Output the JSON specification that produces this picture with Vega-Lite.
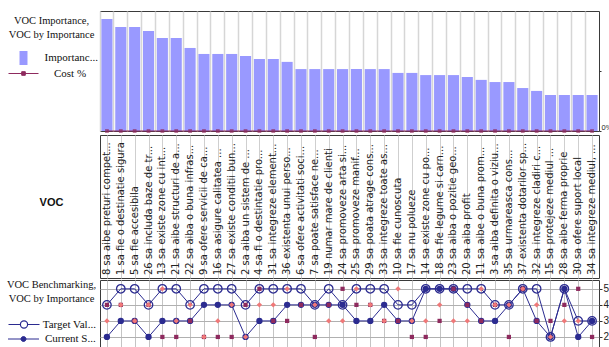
{
  "$schema": "https://vega.github.io/schema/vega-lite/v6.json",
  "padding": {"left": 6, "top": 10, "right": 0, "bottom": 0},
  "background": "white",
  "config": {
    "view": {"stroke": "#3a3a3a", "strokeWidth": 1},
    "concat": {"spacing": 0},
    "font": "Liberation Sans"
  },
  "datasets": {
    "voc": [
      {"voc": "8 sa aibe preturi compet...", "imp": 4.67, "cost": 0, "target": 4, "current": 2, "p": 4, "s": 3},
      {"voc": "1 sa fie o destinatie sigura", "imp": 4.33, "cost": 0, "target": 5, "current": 3, "p": 4, "s": 4},
      {"voc": "5 sa fie accesibila", "imp": 4.33, "cost": 0, "target": 5, "current": 3, "p": 3, "s": 3},
      {"voc": "26 sa includa baze de tr...", "imp": 4.17, "cost": 0, "target": 4, "current": 2, "p": 4, "s": 4},
      {"voc": "13 sa existe zone cu int...", "imp": 3.88, "cost": 0, "target": 5, "current": 3, "p": 2, "s": 5},
      {"voc": "21 sa aibe structuri de a...", "imp": 3.88, "cost": 0, "target": 5, "current": 3, "p": 2, "s": 3},
      {"voc": "22 sa aiba o buna infras...", "imp": 3.46, "cost": 0, "target": 4, "current": 3, "p": 3, "s": 4},
      {"voc": "9 sa ofere servicii de ca...", "imp": 3.21, "cost": 0, "target": 5, "current": 4, "p": 2, "s": 2},
      {"voc": "16 sa asigure calitatea ...", "imp": 3.21, "cost": 0, "target": 5, "current": 4, "p": 2, "s": 3},
      {"voc": "27 sa existe conditii bun...", "imp": 3.21, "cost": 0, "target": 5, "current": 4, "p": 2, "s": 4},
      {"voc": "2 sa aiba un sistem de ...", "imp": 3.13, "cost": 0, "target": 4, "current": 2, "p": 4, "s": 2},
      {"voc": "4 sa fi o destintatie pro...", "imp": 3.0, "cost": 0, "target": 5, "current": 3, "p": 5, "s": 4},
      {"voc": "31 sa integreze element...", "imp": 3.0, "cost": 0, "target": 5, "current": 3, "p": 3, "s": 4},
      {"voc": "36 existenta unui perso...", "imp": 2.88, "cost": 0, "target": 5, "current": 4, "p": 3, "s": 5},
      {"voc": "6 sa ofere activitati soci...", "imp": 2.58, "cost": 0, "target": 5, "current": 4, "p": 4, "s": 1},
      {"voc": "7 sa poate satisface ne...", "imp": 2.58, "cost": 0, "target": 4, "current": 4, "p": 2, "s": 4},
      {"voc": "19 numar mare de clienti", "imp": 2.58, "cost": 0, "target": 5, "current": 4, "p": 4, "s": 3},
      {"voc": "24 sa promoveze arta si...", "imp": 2.58, "cost": 0, "target": 4, "current": 4, "p": 5, "s": 3},
      {"voc": "25 sa promoveze manif...", "imp": 2.58, "cost": 0, "target": 5, "current": 3, "p": 4, "s": 5},
      {"voc": "29 sa poata atrage cons...", "imp": 2.58, "cost": 0, "target": 5, "current": 3, "p": 4, "s": 4},
      {"voc": "33 sa integreze toate as...", "imp": 2.58, "cost": 0, "target": 5, "current": 4, "p": 3, "s": 3},
      {"voc": "10 sa fie cunoscuta", "imp": 2.42, "cost": 0, "target": 4, "current": 3, "p": 3, "s": 5},
      {"voc": "17 sa nu polueze", "imp": 2.42, "cost": 0, "target": 4, "current": 3, "p": 2, "s": 3},
      {"voc": "14 sa existe zone cu po...", "imp": 2.33, "cost": 0, "target": 5, "current": 5, "p": 2, "s": 3},
      {"voc": "18 sa fie legume si carn...", "imp": 2.33, "cost": 0, "target": 5, "current": 5, "p": 3, "s": 4},
      {"voc": "23 sa aiba o pozitie geo...", "imp": 2.33, "cost": 0, "target": 5, "current": 5, "p": 5, "s": 3},
      {"voc": "20 sa aiba profit", "imp": 2.25, "cost": 0, "target": 5, "current": 4, "p": 4, "s": 3},
      {"voc": "11 sa aibe o buna prom...", "imp": 2.13, "cost": 0, "target": 5, "current": 3, "p": 3, "s": 5},
      {"voc": "3 sa aiba definita o viziu...", "imp": 2.04, "cost": 0, "target": 4, "current": 3, "p": 4, "s": 4},
      {"voc": "35 sa urmareasca cons...", "imp": 2.04, "cost": 0, "target": 4, "current": 4, "p": 2, "s": 4},
      {"voc": "37 existenta dotarilor sp...", "imp": 1.79, "cost": 0, "target": 5, "current": 5, "p": 5, "s": 5},
      {"voc": "32 sa integreze cladiri c...", "imp": 1.67, "cost": 0, "target": 5, "current": 3, "p": 3, "s": 4},
      {"voc": "15 sa protejeze mediul ...", "imp": 1.5, "cost": 0, "target": 2, "current": 2, "p": 3, "s": 2},
      {"voc": "28 sa aibe ferma proprie", "imp": 1.5, "cost": 0, "target": 5, "current": 5, "p": 4, "s": 3},
      {"voc": "30 sa ofere suport local", "imp": 1.5, "cost": 0, "target": 3, "current": 2, "p": 5, "s": 3},
      {"voc": "34 sa integreze mediul, ...", "imp": 1.5, "cost": 0, "target": 3, "current": 3, "p": 2, "s": null}
    ]
  },
  "spacing": 0,
  "resolve": {"scale": {"fill": "independent", "stroke": "independent"}, "legend": {"fill": "independent", "stroke": "independent"}},
  "hconcat": [
    {
      "spacing": 0,
      "resolve": {"scale": {"fill": "independent", "stroke": "independent"}, "legend": {"fill": "independent", "stroke": "independent"}},
      "vconcat": [
        {
          "width": 91, "height": 33,
          "data": {"values": [{"t": "VOC Importance,\nVOC by Importance"}]},
          "mark": {"type": "text", "lineBreak": "\n", "font": "Liberation Sans Narrow", "fontSize": 10.5, "color": "#111", "lineHeight": 14, "dy": -7},
          "encoding": {"text": {"field": "t"}}
        },
        {
          "width": 91, "height": 87,
          "data": {"values": []},
          "layer": [
            {
              "mark": {"type": "point", "filled": true},
              "encoding": {
                "fill": {"datum": "Importanc...", "scale": {"range": ["#9999ff"]},
                         "legend": {"orient": "none", "legendX": 10.5, "legendY": 7, "title": null, "padding": 0,
                                    "symbolType": "M-0.57,-1H0.57V1H-0.57Z", "symbolSize": 196, "symbolStrokeWidth": 0, "symbolOpacity": 1,
                                    "labelOffset": 14, "labelFont": "Liberation Sans Narrow", "labelFontSize": 11, "labelColor": "#111"}}
              }
            },
            {
              "mark": {"type": "point", "filled": true, "color": "#8e2a5e"},
              "encoding": {
                "stroke": {"datum": "Cost %", "scale": {"range": ["#8e2a5e"]},
                           "legend": {"orient": "none", "legendX": 2, "legendY": 14, "title": null, "padding": 0,
                                      "symbolType": "M-1,0H1M-0.12,-0.12H0.12V0.12H-0.12Z", "symbolSize": 900, "symbolStrokeWidth": 1,
                                      "symbolFillColor": "#8e2a5e", "symbolOpacity": 1,
                                      "labelOffset": 15, "labelFont": "Liberation Sans Narrow", "labelFontSize": 11, "labelColor": "#111"}}
              }
            }
          ]
        },
        {
          "width": 91, "height": 143,
          "data": {"values": [{"t": "VOC"}]},
          "mark": {"type": "text", "font": "Liberation Sans", "fontWeight": "bold", "fontSize": 11, "color": "#111"},
          "encoding": {"text": {"field": "t"}}
        },
        {
          "width": 91, "height": 36,
          "data": {"values": [{"t": "VOC Benchmarking,\nVOC by Importance"}]},
          "mark": {"type": "text", "lineBreak": "\n", "font": "Liberation Sans Narrow", "fontSize": 10.5, "color": "#111", "lineHeight": 14, "dy": -7},
          "encoding": {"text": {"field": "t"}}
        },
        {
          "width": 91, "height": 37,
          "data": {"values": []},
          "layer": [
            {
              "mark": {"type": "point", "filled": false},
              "encoding": {
                "stroke": {"datum": "Target Val...", "scale": {"range": ["#2b2b90"]},
                           "legend": {"orient": "none", "legendX": 12, "legendY": 8.5, "title": null, "padding": 0,
                                      "symbolType": "M-3.1,0H-0.72M0.72,0H3.1M0.72,0A0.72,0.72 0 1,1 -0.72,0A0.72,0.72 0 1,1 0.72,0Z",
                                      "symbolSize": 100, "symbolStrokeWidth": 1.2, "symbolFillColor": "white", "symbolOpacity": 1,
                                      "labelOffset": 12.7, "labelFont": "Liberation Sans Narrow", "labelFontSize": 11, "labelColor": "#111"}}
              }
            },
            {
              "mark": {"type": "point", "filled": true},
              "encoding": {
                "fill": {"datum": "Current S...", "scale": {"range": ["#2b2b90"]},
                         "legend": {"orient": "none", "legendX": 12, "legendY": 23.5, "title": null, "padding": 0,
                                    "symbolType": "M-3.1,0H3.1M0.5,0A0.5,0.5 0 1,1 -0.5,0A0.5,0.5 0 1,1 0.5,0Z",
                                    "symbolSize": 100, "symbolStrokeWidth": 1, "symbolStrokeColor": "#2b2b90", "symbolOpacity": 1,
                                    "labelOffset": 16, "labelFont": "Liberation Sans Narrow", "labelFontSize": 11, "labelColor": "#111"}}
              }
            }
          ]
        }
      ]
    },
    {
      "spacing": 0,
      "vconcat": [
        {
          "width": 499, "height": 120,
          "data": {"name": "voc"},
          "encoding": {
            "x": {"field": "voc", "type": "nominal", "sort": null, "scale": {"paddingInner": 0, "paddingOuter": 0},
                  "axis": {"title": null, "labels": false, "ticks": false, "domain": false, "grid": true, "bandPosition": 0, "gridColor": "#d6d6d6", "gridWidth": 1.5}}
          },
          "layer": [
            {
              "mark": {"type": "bar", "width": {"band": 0.8}, "color": "#9999ff"},
              "encoding": {
                "y": {"field": "imp", "type": "quantitative", "scale": {"domain": [0, 5]}, "axis": null}
              }
            },
            {
              "encoding": {
                "y": {"field": "cost", "type": "quantitative", "scale": {"domain": [0, 1]},
                      "axis": {"orient": "right", "values": [0, 0.5], "labelExpr": "datum.value == 0 ? '0%' : ''", "labelFlush": true, "title": null, "grid": false, "domain": false, "tickSize": 2, "tickColor": "#333", "labelPadding": 0, "labelFontSize": 7.5, "labelColor": "#222"}}
              },
              "layer": [
                {"mark": {"type": "line", "strokeWidth": 1, "color": "#8e2a5e"}},
                {"mark": {"type": "point", "shape": "square", "filled": true, "size": 14, "color": "#8e2a5e"}}
              ]
            }
          ],
          "resolve": {"scale": {"y": "independent"}}
        },
        {
          "width": 499, "height": 143,
          "data": {"name": "voc"},
          "mark": {"type": "text", "angle": 270, "align": "left", "baseline": "middle", "dx": 3, "font": "DejaVu Sans", "fontSize": 10, "color": "#222"},
          "encoding": {
            "x": {"field": "voc", "type": "nominal", "sort": null, "scale": {"paddingInner": 0, "paddingOuter": 0},
                  "axis": {"title": null, "labels": false, "ticks": false, "domain": false, "grid": true, "bandPosition": 0, "gridColor": "#cfcfcf", "gridWidth": 1}},
            "y": {"datum": 0, "type": "quantitative", "scale": {"domain": [0, 1]}, "axis": null},
            "text": {"field": "voc"}
          }
        },
        {
          "width": 499, "height": 73,
          "data": {"name": "voc"},
          "encoding": {
            "x": {"field": "voc", "type": "nominal", "sort": null, "scale": {"paddingInner": 0, "paddingOuter": 0},
                  "axis": {"title": null, "labels": false, "ticks": false, "domain": false, "grid": true, "bandPosition": 0, "gridColor": "#c4c4c4", "gridWidth": 1}}
          },
          "layer": [
            {
              "mark": {"type": "line", "strokeWidth": 1, "color": "#2b2b90"},
              "encoding": {
                "y": {"field": "target", "type": "quantitative", "scale": {"domain": [1, 5.55], "nice": false, "zero": false},
                      "axis": {"orient": "right", "values": [2, 3, 4, 5], "title": null, "grid": true, "gridColor": "#b0b0b0", "domain": false, "tickSize": 3, "tickColor": "#333", "labelPadding": 1, "labelFontSize": 10, "labelColor": "#222"}}
              }
            },
            {
              "mark": {"type": "line", "strokeWidth": 1, "color": "#2b2b90"},
              "encoding": {
                "y": {"field": "current", "type": "quantitative", "scale": {"domain": [1, 5.55], "nice": false, "zero": false},
                      "axis": {"orient": "right", "values": [2, 3, 4, 5], "title": null, "grid": true, "gridColor": "#b0b0b0", "domain": false, "tickSize": 3, "tickColor": "#333", "labelPadding": 1, "labelFontSize": 10, "labelColor": "#222"}}
              }
            },
            {
              "mark": {"type": "point", "shape": "circle", "filled": true, "size": 40, "strokeWidth": 0, "color": "#2b2b90", "opacity": 1},
              "encoding": {
                "y": {"field": "current", "type": "quantitative", "scale": {"domain": [1, 5.55], "nice": false, "zero": false},
                      "axis": {"orient": "right", "values": [2, 3, 4, 5], "title": null, "grid": true, "gridColor": "#b0b0b0", "domain": false, "tickSize": 3, "tickColor": "#333", "labelPadding": 1, "labelFontSize": 10, "labelColor": "#222"}}
              }
            },
            {
              "mark": {"type": "point", "shape": "circle", "filled": false, "size": 72, "strokeWidth": 1.3, "color": "#2b2b90", "opacity": 1},
              "encoding": {
                "y": {"field": "target", "type": "quantitative", "scale": {"domain": [1, 5.55], "nice": false, "zero": false},
                      "axis": {"orient": "right", "values": [2, 3, 4, 5], "title": null, "grid": true, "gridColor": "#b0b0b0", "domain": false, "tickSize": 3, "tickColor": "#333", "labelPadding": 1, "labelFontSize": 10, "labelColor": "#222"}}
              }
            },
            {
              "mark": {"type": "point", "shape": "square", "filled": true, "size": 18, "color": "#8e2a5e", "opacity": 1},
              "encoding": {
                "y": {"field": "p", "type": "quantitative", "scale": {"domain": [1, 5.55], "nice": false, "zero": false},
                      "axis": {"orient": "right", "values": [2, 3, 4, 5], "title": null, "grid": true, "gridColor": "#b0b0b0", "domain": false, "tickSize": 3, "tickColor": "#333", "labelPadding": 1, "labelFontSize": 10, "labelColor": "#222"}}
              }
            },
            {
              "mark": {"type": "point", "shape": "diamond", "filled": true, "size": 28, "color": "#f07878", "opacity": 1},
              "encoding": {
                "y": {"field": "s", "type": "quantitative", "scale": {"domain": [1, 5.55], "nice": false, "zero": false},
                      "axis": {"orient": "right", "values": [2, 3, 4, 5], "title": null, "grid": true, "gridColor": "#b0b0b0", "domain": false, "tickSize": 3, "tickColor": "#333", "labelPadding": 1, "labelFontSize": 10, "labelColor": "#222"}}
              }
            }
          ]
        }
      ]
    }
  ]
}
